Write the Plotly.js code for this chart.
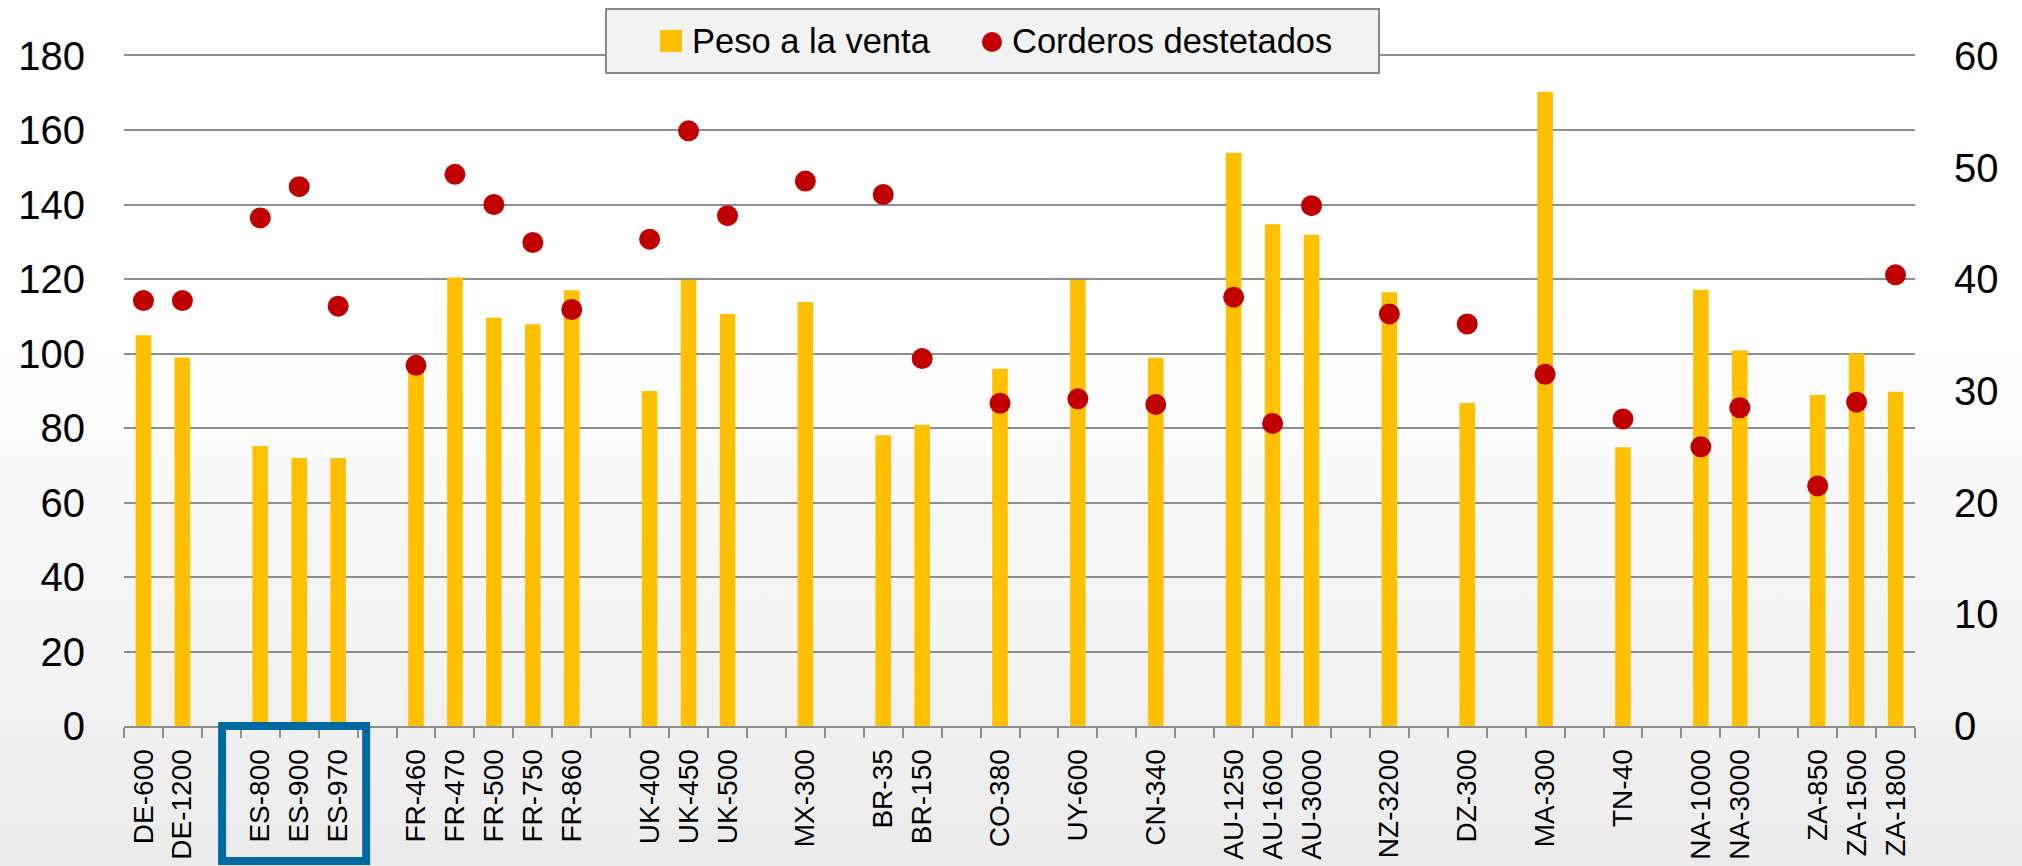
<!DOCTYPE html>
<html>
<head>
<meta charset="utf-8">
<script src="https://cdn.plot.ly/plotly-3.0.1.min.js"></script>
<style>
  html, body { margin: 0; padding: 0; }
  body { width: 2022px; height: 866px; background: linear-gradient(to bottom, #ffffff 0%, #ffffff 35%, #ebebeb 100%); overflow: hidden; }
  #chart { width: 2022px; height: 866px; }
</style>
</head>
<body>
<div id="chart"></div>
<script>
// Categories ("" = empty separator slot between country groups)
const categories = ["DE-600","DE-1200","","ES-800","ES-900","ES-970","","FR-460","FR-470","FR-500","FR-750","FR-860","","UK-400","UK-450","UK-500","","MX-300","","BR-35","BR-150","","CO-380","","UY-600","","CN-340","","AU-1250","AU-1600","AU-3000","","NZ-3200","","DZ-300","","MA-300","","TN-40","","NA-1000","NA-3000","","ZA-850","ZA-1500","ZA-1800"];

// Peso a la venta (left axis)
const pesoVenta = [105, 99, null, 75.2, 72, 72, null, 96, 120.5, 109.7, 107.9, 117.1, null, 90, 119.8, 110.7, null, 113.9, null, 78.1, 80.9, null, 96, null, 119.8, null, 98.9, null, 154, 134.8, 132, null, 116.5, null, 86.8, null, 170.4, null, 74.9, null, 117.2, 100.9, null, 88.9, 100.1, 89.8];

// Corderos destetados (right axis)
const corderos = [38.1, 38.1, null, 45.5, 48.3, 37.6, null, 32.3, 49.4, 46.7, 43.3, 37.3, null, 43.6, 53.3, 45.7, null, 48.8, null, 47.6, 32.9, null, 28.9, null, 29.3, null, 28.8, null, 38.4, 27.1, 46.6, null, 36.9, null, 36.0, null, 31.5, null, 27.5, null, 25.0, 28.5, null, 21.5, 29.0, 40.4];

const leftTicks = [0, 20, 40, 60, 80, 100, 120, 140, 160, 180];
const rightTicks = [0, 10, 20, 30, 40, 50, 60];

const seriesNames = ['Peso a la venta', 'Corderos destetados'];
const barColor = '#ffc000';
const dotColor = '#c00000';

const xIdx = categories.map((c, i) => i);
const gridCol = '#8e8e8e';

// page geometry (px) -> paper coordinates
const W = 2022, H = 866;
const M = { l: 124, r: 107, t: 56, b: 140 };
const PW = W - M.l - M.r, PH = H - M.t - M.b;
const px = v => (v - M.l) / PW;
const py = v => (H - M.b - v) / PH;

const traces = [
  {
    type: 'bar', name: seriesNames[0],
    x: xIdx, y: pesoVenta, yaxis: 'y',
    width: 0.4,
    marker: { color: barColor },
    hoverinfo: 'skip', showlegend: false
  },
  {
    type: 'scatter', mode: 'markers', name: seriesNames[1],
    x: xIdx, y: corderos, yaxis: 'y2',
    marker: { color: dotColor, size: 21 },
    hoverinfo: 'skip', showlegend: false
  }
];

const legendFont = { family: 'Liberation Sans, Arial, sans-serif', size: 34.5, color: '#000' };

const layout = {
  width: W, height: H,
  margin: { l: M.l, r: M.r, t: M.t, b: M.b, pad: 0 },
  paper_bgcolor: 'rgba(0,0,0,0)',
  plot_bgcolor: 'rgba(0,0,0,0)',
  font: { family: 'Liberation Sans, Arial, sans-serif', color: '#000' },
  showlegend: false,
  xaxis: {
    type: 'linear',
    range: [-0.5, categories.length - 0.5],
    tickmode: 'array', tickvals: xIdx, ticktext: categories,
    tickangle: -90,
    ticks: '',
    ticklabelstandoff: 10,
    tickfont: { family: 'Liberation Sans, Arial, sans-serif', size: 28, color: '#000' },
    showgrid: false, zeroline: false,
    showline: true, mirror: true, linecolor: gridCol, linewidth: 2,
    minor: { tick0: -0.5, dtick: 1, ticks: 'outside', ticklen: 10, tickwidth: 2, tickcolor: gridCol, showgrid: false },
    fixedrange: true
  },
  yaxis: {
    range: [0, 180],
    tickmode: 'array', tickvals: leftTicks,
    showgrid: true, gridcolor: gridCol, gridwidth: 2,
    zeroline: false, showline: false, ticks: '',
    tickfont: { family: 'Liberation Sans, Arial, sans-serif', size: 40, color: '#000' },
    ticklabelstandoff: 38,
    fixedrange: true
  },
  yaxis2: {
    range: [0, 60], overlaying: 'y', side: 'right',
    tickmode: 'array', tickvals: rightTicks,
    showgrid: false, zeroline: false, showline: false, ticks: '',
    tickfont: { family: 'Liberation Sans, Arial, sans-serif', size: 40, color: '#000' },
    ticklabelstandoff: 38,
    fixedrange: true
  },
  shapes: [
    // highlight box around the Spanish farms
    {
      type: 'rect', xref: 'paper', yref: 'paper',
      x0: (2.02 + 0.5) / categories.length, x1: (5.72 + 0.5) / categories.length,
      y0: py(861), y1: py(726),
      line: { color: '#00699f', width: 8 },
      fillcolor: 'rgba(0,0,0,0)', layer: 'above'
    },
    // legend frame
    {
      type: 'rect', xref: 'paper', yref: 'paper',
      x0: px(606), x1: px(1379), y0: py(73), y1: py(9),
      line: { color: '#8a8a8a', width: 2 },
      fillcolor: '#f2f2f2', layer: 'above'
    },
    // legend key: bar
    {
      type: 'rect', xref: 'paper', yref: 'paper',
      x0: px(660), x1: px(682), y0: py(52), y1: py(30),
      line: { width: 0 }, fillcolor: barColor, layer: 'above'
    },
    // legend key: dot
    {
      type: 'circle', xref: 'paper', yref: 'paper',
      x0: px(982), x1: px(1002), y0: py(52), y1: py(32),
      line: { width: 0 }, fillcolor: dotColor, layer: 'above'
    }
  ],
  annotations: [
    {
      xref: 'paper', yref: 'paper', x: px(690), y: py(41),
      xanchor: 'left', yanchor: 'middle', showarrow: false,
      text: seriesNames[0], font: legendFont
    },
    {
      xref: 'paper', yref: 'paper', x: px(1010), y: py(41),
      xanchor: 'left', yanchor: 'middle', showarrow: false,
      text: seriesNames[1], font: legendFont
    }
  ]
};

Plotly.newPlot('chart', traces, layout, { displayModeBar: false, staticPlot: true });
</script>
</body>
</html>
